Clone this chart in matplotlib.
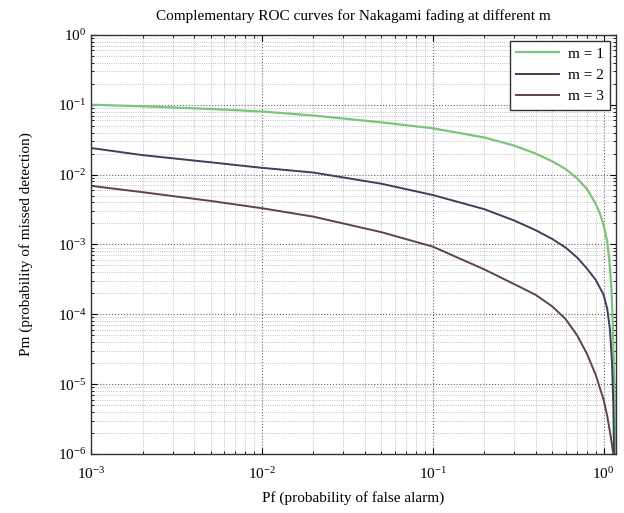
import numpy as np
import matplotlib
matplotlib.use("Agg")
import matplotlib.pyplot as plt
from matplotlib.ticker import LogLocator, NullFormatter

plt.rcParams["font.family"] = ["Liberation Serif", "DejaVu Serif"]
plt.rcParams["mathtext.fontset"] = "custom"
plt.rcParams["mathtext.rm"] = "Liberation Serif"
plt.rcParams["mathtext.it"] = "Liberation Serif:italic"

# Pf / Pm pairs for each Nakagami m
pf_m1 = [0.001, 0.002, 0.005, 0.01, 0.02, 0.05, 0.1, 0.2, 0.3, 0.4, 0.5, 0.6, 0.7, 0.8,
         0.9, 0.95, 1.0, 1.05, 1.08, 1.11, 1.13, 1.15, 1.16, 1.17]
pm_m1 = [0.100, 0.095, 0.087, 0.080, 0.070, 0.056, 0.046, 0.034, 0.026, 0.020, 0.0155,
         0.012, 0.0088, 0.0062, 0.0038, 0.0028, 0.0019, 0.0011, 6e-4, 2.5e-4, 8e-5,
         1.5e-5, 5e-6, 1e-6]

pf_m2 = [0.001, 0.002, 0.005, 0.01, 0.02, 0.05, 0.1, 0.2, 0.3, 0.4, 0.5, 0.6, 0.7, 0.8,
         0.9, 1.0, 1.05, 1.09, 1.12, 1.14, 1.15]
pm_m2 = [0.024, 0.019, 0.015, 0.0125, 0.0107, 0.0074, 0.0051, 0.0032, 0.0022, 0.0016,
         0.0012, 0.0009, 0.00065, 0.00045, 0.00031, 0.00019, 1.2e-4, 6e-5, 2e-5, 5e-6,
         1e-6]

pf_m3 = [0.001, 0.002, 0.005, 0.01, 0.02, 0.05, 0.1, 0.2, 0.3, 0.4, 0.5, 0.6, 0.7, 0.8,
         0.9, 1.0, 1.05, 1.1, 1.14]
pm_m3 = [0.0069, 0.0056, 0.0042, 0.0033, 0.0025, 0.0015, 0.00093, 0.00044, 0.00027,
         0.00019, 0.00013, 8.5e-5, 5e-5, 2.7e-5, 1.35e-5, 6e-6, 3.5e-6, 1.8e-6, 1e-6]

labels = ["m = 1", "m = 2", "m = 3"]
colors = ["#7cc47c", "#3b4057", "#5e4444"]

fig = plt.figure(figsize=(6.24, 5.13), dpi=100)
ax = fig.add_axes([0.146, 0.115, 0.841, 0.817])

ax.loglog(pf_m1, pm_m1, color=colors[0], lw=1.6, label=labels[0])
ax.loglog(pf_m2, pm_m2, color=colors[1], lw=1.4, label=labels[1])
ax.loglog(pf_m3, pm_m3, color=colors[2], lw=1.4, label=labels[2])

ax.set_xlim(1e-3, 1.18)
ax.set_ylim(1e-6, 1)

ax.xaxis.set_major_locator(LogLocator(base=10, numticks=10))
ax.yaxis.set_major_locator(LogLocator(base=10, numticks=10))
ax.xaxis.set_minor_locator(LogLocator(base=10, subs=np.arange(2, 10), numticks=20))
ax.yaxis.set_minor_locator(LogLocator(base=10, subs=np.arange(2, 10), numticks=20))
ax.xaxis.set_minor_formatter(NullFormatter())
ax.yaxis.set_minor_formatter(NullFormatter())

# matlab-like dotted grid, inward ticks
ax.grid(True, which="major", ls=":", color="#666666", lw=0.8)
ax.grid(True, which="minor", ls=":", color="#b0b0b0", lw=0.6)
ax.tick_params(which="both", direction="in", top=True, right=True, labelsize=11)
ax.tick_params(which="major", length=4)
ax.tick_params(which="minor", length=2)
ax.tick_params(axis="x", which="major", pad=9)
for s in ax.spines.values():
    s.set_color("#333333")
    s.set_linewidth(1.0)

ax.set_title("Complementary ROC curves for Nakagami fading at different m", fontsize=11, pad=11)
ax.set_xlabel("Pf (probability of false alarm)", fontsize=11, labelpad=6)
ax.set_ylabel("Pm (probability of missed detection)", fontsize=11, labelpad=18)

leg = ax.legend(loc="upper right", fontsize=11, handlelength=2.8, fancybox=False,
                framealpha=1, edgecolor="#333333", borderaxespad=0.4,
                labelspacing=0.5, handletextpad=0.6)
leg.get_frame().set_linewidth(1.0)

fig.savefig("out.png", dpi=100)
